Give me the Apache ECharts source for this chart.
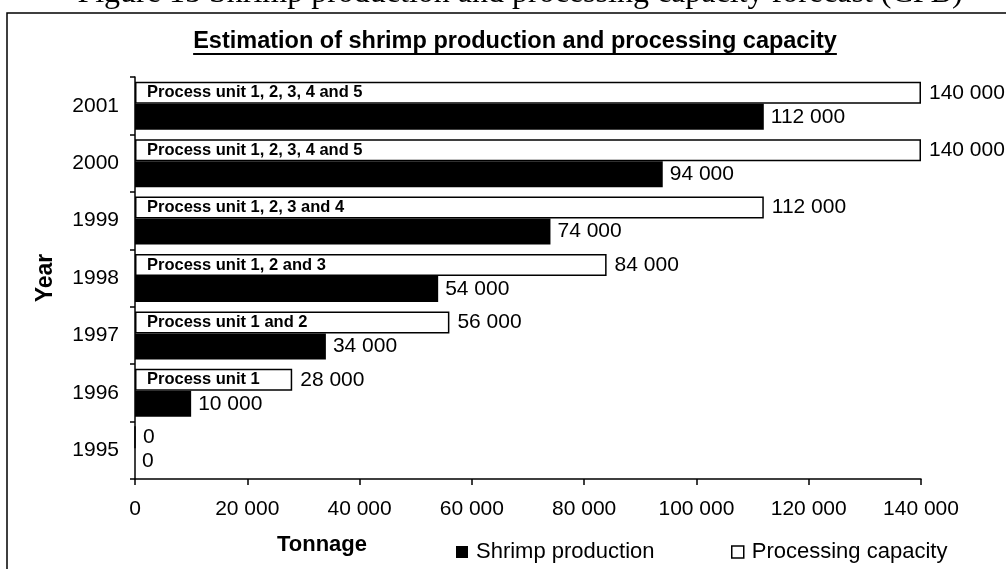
<!DOCTYPE html>
<html>
<head>
<meta charset="utf-8">
<script src="https://cdn.jsdelivr.net/npm/echarts@6/dist/echarts.min.js"></script>
<style>
html,body{margin:0;padding:0;background:#fff;}
#c{width:1006px;height:569px;}
</style>
</head>
<body>
<div id="c"></div>
<script>
const years = ['1995', '1996', '1997', '1998', '1999', '2000', '2001'];
const production = [0, 10000, 34000, 54000, 74000, 94000, 112000];
const capacity = [0, 28000, 56000, 84000, 112000, 140000, 140000];
const unitLabels = ['', 'Process unit 1', 'Process unit 1 and 2', 'Process unit 1, 2 and 3',
  'Process unit 1, 2, 3 and 4', 'Process unit 1, 2, 3, 4 and 5', 'Process unit 1, 2, 3, 4 and 5'];
const xMin = 0, xMax = 140000, xStep = 20000;

const titleText = 'Estimation of shrimp production and processing capacity';
const captionText = 'Figure 15 Shrimp production and processing capacity forecast (CPB)';

const fmt = v => String(v).replace(/\B(?=(\d{3})+(?!\d))/g, ' ');
const FONT = '"Liberation Sans", Arial, sans-serif';

function measure(text, font) {
  const cv = document.createElement('canvas').getContext('2d');
  cv.font = font;
  return cv.measureText(text).width;
}
const titleSize = 23.5;
const titleCenter = 515;
const titleW = measure(titleText, 'bold ' + titleSize + 'px "Liberation Sans"');

const chart = echarts.init(document.getElementById('c'), null, {renderer: 'canvas'});
chart.setOption({
  backgroundColor: '#fff',
  animation: false,
  title: {
    text: titleText,
    left: titleCenter - titleW / 2,
    top: 30,
    padding: 0,
    textStyle: {fontFamily: FONT, fontSize: titleSize, fontWeight: 'bold', color: '#000'}
  },
  graphic: [
    {type: 'rect', shape: {x: 7, y: 13, width: 1020, height: 580}, style: {fill: 'none', stroke: '#000', lineWidth: 1.5}, silent: true},
    {type: 'text', x: 520, y: -6, style: {text: captionText, font: '32px "Liberation Serif", "Times New Roman", serif', fill: '#000', align: 'center', verticalAlign: 'middle'}, silent: true},
    {type: 'line', shape: {x1: titleCenter - titleW / 2, y1: 54, x2: titleCenter + titleW / 2, y2: 54}, style: {stroke: '#000', lineWidth: 2}, silent: true}
  ],
  legend: [
    {data: [{name: 'Shrimp production', itemStyle: {color: '#000'}}], left: 456, top: 541, padding: 0,
      icon: 'rect', itemWidth: 12, itemHeight: 12, textStyle: {fontFamily: FONT, fontSize: 22, color: '#000', padding: [0, 0, 0, 3]}},
    {data: [{name: 'Processing capacity', itemStyle: {color: '#fff', borderColor: '#000', borderWidth: 1.5}}], left: 731, top: 541, padding: 0,
      icon: 'rect', itemWidth: 12, itemHeight: 12, textStyle: {fontFamily: FONT, fontSize: 22, color: '#000', padding: [0, 0, 0, 3]}}
  ],
  grid: {left: 135, right: 85, top: 77, bottom: 90, containLabel: false},
  xAxis: {
    type: 'value', min: xMin, max: xMax, interval: xStep,
    name: 'Tonnage', nameLocation: 'middle', nameGap: 55,
    nameTextStyle: {fontFamily: FONT, fontSize: 22, fontWeight: 'bold', color: '#000', padding: [0, 412, 0, 0]},
    splitLine: {show: false},
    axisLine: {show: true, lineStyle: {color: '#000', width: 1.5}},
    axisTick: {show: true, length: 6, lineStyle: {color: '#000', width: 1.5}},
    axisLabel: {fontFamily: FONT, fontSize: 21, color: '#000', margin: 20, formatter: v => fmt(v)}
  },
  yAxis: {
    type: 'category', data: years,
    name: 'Year', nameLocation: 'middle', nameRotate: 90, nameGap: 78,
    nameTextStyle: {fontFamily: FONT, fontSize: 23, fontWeight: 'bold', color: '#000'},
    axisLine: {show: true, lineStyle: {color: '#000', width: 1.5}},
    axisTick: {show: true, length: 5, lineStyle: {color: '#000', width: 1.5}},
    axisLabel: {fontFamily: FONT, fontSize: 21, color: '#000', margin: 16}
  },
  series: [
    {
      name: 'Processing capacity', type: 'bar', stack: 'cap', data: capacity, barWidth: 22, barGap: 0,
      itemStyle: {color: '#fff', borderColor: '#000', borderWidth: 1.5},
      label: {show: true, position: 'insideLeft', distance: 12, formatter: p => unitLabels[p.dataIndex],
        fontFamily: FONT, fontSize: 16.5, fontWeight: 'bold', color: '#000'}
    },
    {
      name: 'capacityValue', type: 'bar', stack: 'cap', data: capacity.map(() => 0), barWidth: 22, barGap: 0,
      itemStyle: {color: 'rgba(0,0,0,0)'},
      label: {show: true, position: 'right', distance: 8, formatter: p => fmt(capacity[p.dataIndex]),
        fontFamily: FONT, fontSize: 21, color: '#000'}
    },
    {
      name: 'Shrimp production', type: 'bar', data: production, barWidth: 26, barGap: 0,
      itemStyle: {color: '#000'},
      label: {show: true, position: 'right', distance: 7, formatter: p => fmt(p.value),
        fontFamily: FONT, fontSize: 21, color: '#000'}
    }
  ]
});
</script>
</body>
</html>
